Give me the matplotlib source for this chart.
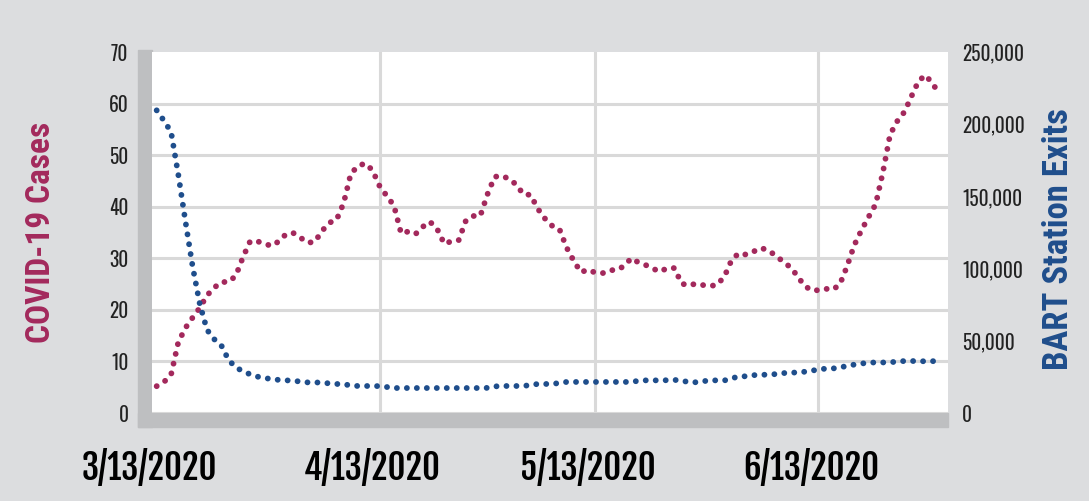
import datetime as dt

import matplotlib
matplotlib.use("Agg")
import matplotlib.pyplot as plt
import matplotlib.dates as mdates
import matplotlib.transforms as mtransforms
from matplotlib.patches import Rectangle
from matplotlib.ticker import FuncFormatter

# daily values, 3/13/2020 .. 6/30/2020
start = dt.date(2020, 3, 13)
cases = [
    5.2, 6.0, 7.4, 13.7, 16.5, 18.5, 20.4, 22.8, 24.3, 25.4,
    25.4, 26.6, 30.2, 33.3, 33.3, 32.8, 32.4, 33.3, 34.7, 34.9,
    34.0, 33.0, 33.2, 35.3, 36.9, 37.4, 40.7, 46.4, 47.9, 48.4,
    47.1, 44.0, 42.1, 40.2, 34.8, 35.2, 34.7, 36.1, 37.1, 35.7,
    32.8, 33.3, 33.5, 37.3, 38.2, 38.2, 42.4, 45.8, 46.0, 45.4,
    44.3, 42.4, 42.3, 39.6, 37.7, 36.3, 35.7, 32.1, 29.5, 27.3,
    27.8, 27.2, 27.1, 27.7, 27.7, 28.5, 30.0, 29.2, 28.7, 28.0,
    27.4, 28.1, 28.1, 25.1, 24.7, 25.1, 24.8, 24.6, 24.9, 26.6,
    29.8, 31.0, 30.7, 31.3, 32.0, 31.6, 30.6, 29.5, 28.4, 26.8,
    24.8, 23.8, 23.8, 24.1, 23.9, 24.9, 28.4, 32.5, 35.4, 38.0,
    40.5, 46.7, 54.0, 56.6, 58.4, 61.5, 64.5, 65.5, 63.5, 62.2,
]
exits = [
    209600, 202500, 194700, 165300, 132700, 101400, 75400, 57600, 51100, 46700,
    36700, 31600, 28900, 26800, 25200, 24200, 23500, 22900, 22600, 22400,
    21700, 21200, 21200, 21000, 20500, 20100, 20000, 19000, 18700, 18700,
    18700, 18600, 18000, 17300, 17300, 17300, 17300, 17300, 17300, 17300,
    17300, 17300, 17300, 17300, 17300, 17300, 17400, 18400, 18700, 18700,
    18700, 18700, 19400, 20100, 20100, 20100, 20800, 21500, 21500, 21500,
    21500, 21500, 21500, 21500, 21500, 21500, 21500, 22300, 22600, 22600,
    22600, 22700, 22900, 22500, 21300, 21300, 22000, 22600, 22600, 22600,
    24000, 25400, 25400, 26200, 26400, 26600, 26900, 27600, 27800, 28100,
    28500, 29200, 30100, 30700, 30800, 31500, 32600, 33500, 34200, 34900,
    35000, 35000, 35100, 35600, 36000, 36000, 35900, 35800, 35900, 36000,
]
dates = [start + dt.timedelta(days=i) for i in range(len(cases))]
tick_dates = [dt.date(2020, 3, 13), dt.date(2020, 4, 13), dt.date(2020, 5, 13), dt.date(2020, 6, 13)]
case_ticks = [0, 10, 20, 30, 40, 50, 60, 70]
exit_ticks = [0, 50000, 100000, 150000, 200000, 250000]

red = "#A3295C"
blue = "#1F4E8C"
bg = "#DCDDDF"
wall = "#BEBFC1"

tick_font = ["Oswald", "DejaVu Sans"]
date_font = ["Fjalla One", "Oswald", "DejaVu Sans"]
title_font = ["Roboto Condensed", "DejaVu Sans"]

fig = plt.figure(figsize=(10.89, 5.01), dpi=100, facecolor=bg)
L, R, B, T = 152 / 1089, 948 / 1089, 1 - 413 / 501, 1 - 52 / 501
ax = fig.add_axes([L, B, R - L, T - B])
ax2 = ax.twinx()

# grey "wall" and "floor" like the excel 3d look
fig.add_artist(Rectangle((138 / 1089, 1 - 427 / 501), 14 / 1089, 377 / 501,
                         transform=fig.transFigure, color=wall, zorder=-1))
fig.add_artist(Rectangle((138 / 1089, 1 - 427 / 501), 810 / 1089, 14 / 501,
                         transform=fig.transFigure, color=wall, zorder=-1))

dots = (0, (0.01, 1.7))
ax.plot(dates, cases, color=red, lw=4.2, linestyle=dots,
        dash_capstyle="round", zorder=3)
ax2.plot(dates, exits, color=blue, lw=4.2, linestyle=dots,
         dash_capstyle="round", zorder=3)

ax.set_ylim(0, 70)
ax2.set_ylim(0, 250000)
x0 = mdates.date2num(start)
ax.set_xlim(x0 - 0.65, x0 + 110.05)

ax.set_yticks(case_ticks)
ax2.set_yticks(exit_ticks)
ax2.yaxis.set_major_formatter(FuncFormatter(lambda v, p: f"{int(v):,}"))
ax.set_xticks(tick_dates)
ax.xaxis.set_major_formatter(mdates.DateFormatter("%-m/%-d/%Y"))

ax.grid(True, color="#D9D9D9", lw=2.2)
ax.set_axisbelow(True)
# no grid line at the first date (the wall) or along the top edge
ax.xaxis.get_gridlines()[0].set_visible(False)
ax.yaxis.get_gridlines()[-1].set_visible(False)
for a in (ax, ax2):
    for s in a.spines.values():
        s.set_visible(False)

ax.tick_params(axis="y", length=0, pad=17, labelsize=14, labelcolor="#222222")
ax2.tick_params(axis="y", length=0, pad=10, labelsize=14, labelcolor="#222222")
ax.tick_params(axis="x", length=0, pad=26, labelsize=25)
for lab in ax.get_yticklabels() + ax2.get_yticklabels():
    lab.set_family(tick_font)
shift = mtransforms.ScaledTranslation(-7 / 100, 0, fig.dpi_scale_trans)
for lab in ax.get_xticklabels():
    lab.set_family(date_font)
    lab.set_weight("bold")
    lab.set_transform(lab.get_transform() + shift)

fig.text(41 / 1089, 1 - 232 / 501, "COVID-19 Cases", rotation=90, color=red,
         fontsize=24, weight="bold", ha="center", va="center", family=title_font)
fig.text(1058 / 1089, 1 - 239 / 501, "BART Station Exits", rotation=90, color=blue,
         fontsize=25, weight="bold", ha="center", va="center", family=title_font)

fig.savefig("out.png", dpi=100, facecolor=bg)
